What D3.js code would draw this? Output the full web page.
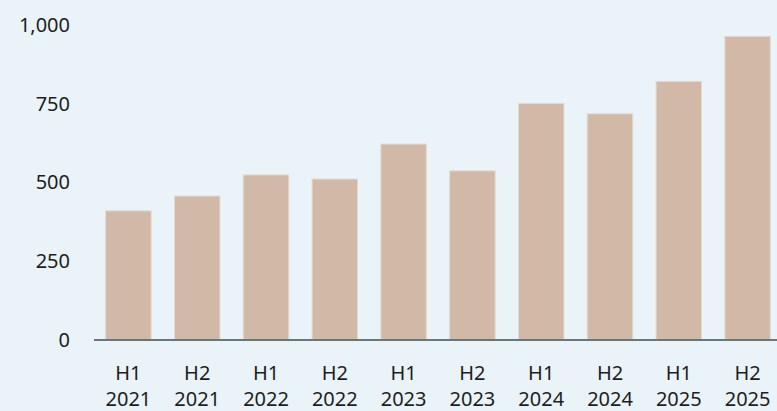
<!DOCTYPE html>
<html>
<head>
<meta charset="utf-8">
<script src="https://cdn.jsdelivr.net/npm/d3@7"></script>
<style>
  html, body { margin: 0; padding: 0; background: #eaf3f7; }
  svg { display: block; }
  text { font-family: "Noto Sans", "Open Sans", sans-serif; fill: #1e1e1e; }
</style>
</head>
<body>
<svg id="chart" width="777" height="411"></svg>
<script>
// Half-year periods and their values
const halves = ["H1", "H2", "H1", "H2", "H1", "H2", "H1", "H2", "H1", "H2"];
const years = ["2021", "2021", "2022", "2022", "2023", "2023", "2024", "2024", "2025", "2025"];
const values = [410, 457, 524, 511, 622, 537, 751, 718, 821, 964];
const yTicks = [0, 250, 500, 750, 1000];

const svg = d3.select("#chart");
const W = 777, H = 411;
const margin = { left: 94, top: 25, bottom: 71 };
const fontSize = 20;

const keys = values.map((_, i) => i);
const x = d3.scaleBand()
  .domain(keys)
  .range([margin.left, margin.left + 688])
  .paddingInner(0.34)
  .paddingOuter(0.17);

const y = d3.scaleLinear()
  .domain([0, 1000])
  .range([H - margin.bottom, margin.top]);

// Bars
svg.append("g")
  .selectAll("rect")
  .data(values)
  .join("rect")
  .attr("x", (d, i) => x(i))
  .attr("y", d => y(d))
  .attr("width", x.bandwidth())
  .attr("height", d => y(0) - y(d))
  .attr("fill", "#d2b8a6")
  .attr("stroke", "#e2d9d0")
  .attr("stroke-width", 1);

// Y axis labels (no line)
const yAxis = d3.axisLeft(y)
  .tickValues(yTicks)
  .tickFormat(d3.format(","))
  .tickSize(0)
  .tickPadding(0);
const gy = svg.append("g")
  .attr("transform", "translate(70,0)")
  .call(yAxis);
gy.select(".domain").remove();
gy.selectAll("text")
  .attr("font-size", fontSize)
  .attr("font-family", "'Noto Sans', 'Open Sans', sans-serif")
  .attr("fill", "#1e1e1e");

// Baseline
svg.append("line")
  .attr("x1", margin.left)
  .attr("x2", W)
  .attr("y1", y(0))
  .attr("y2", y(0))
  .attr("stroke", "#66787b")
  .attr("stroke-width", 2);

// X axis labels: half on first line, year below
const xAxis = d3.axisBottom(x).tickSize(0).tickFormat("");
const gx = svg.append("g")
  .attr("transform", `translate(0,${y(0)})`)
  .call(xAxis);
gx.select(".domain").remove();
gx.selectAll(".tick").each(function(d) {
  const t = d3.select(this).append("text")
    .attr("text-anchor", "middle")
    .attr("font-size", fontSize)
    .attr("fill", "#1e1e1e");
  t.append("tspan").attr("x", 0).attr("y", 40).text(halves[d]);
  t.append("tspan").attr("x", 0).attr("y", 66).text(years[d]);
});
</script>
</body>
</html>
